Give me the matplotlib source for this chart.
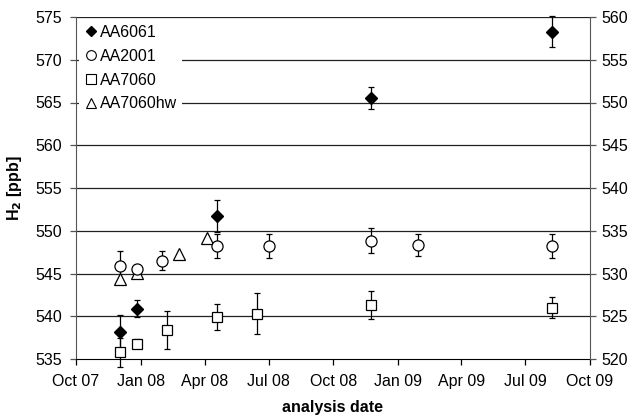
import matplotlib
matplotlib.use("Agg")
import matplotlib.pyplot as plt
import matplotlib.dates as mdates
from matplotlib.lines import Line2D
import numpy as np
import datetime as dt

plt.rcParams['font.family'] = ['Liberation Sans', 'DejaVu Sans']
plt.rcParams['font.size'] = 11.5

# data
aa6061_dates = ["2007-12-03", "2007-12-27", "2008-04-18", "2008-11-24", "2009-08-08"]
aa6061_vals = [538.2, 540.9, 551.7, 565.5, 573.3]
aa6061_err = [2.0, 1.0, 1.9, 1.3, 1.8]

aa2001_dates = ["2007-12-03", "2007-12-27", "2008-02-01", "2008-04-18", "2008-07-01",
                "2008-11-24", "2009-01-30", "2009-08-08"]
aa2001_vals = [545.9, 545.5, 546.5, 548.2, 548.2, 548.85, 548.3, 548.2]
aa2001_err = [1.7, 0.3, 1.1, 1.4, 1.4, 1.5, 1.3, 1.4]

aa7060_dates = ["2007-12-03", "2007-12-27", "2008-02-07", "2008-04-18", "2008-06-14",
                "2008-11-24", "2009-08-08"]
aa7060_vals = [535.8, 536.8, 538.4, 539.9, 540.3, 541.3, 541.0]
aa7060_err = [1.7, 0.5, 2.2, 1.5, 2.4, 1.6, 1.2]

aa7060hw_dates = ["2007-12-03", "2007-12-27", "2008-02-24", "2008-04-05"]
aa7060hw_vals = [544.3, 545.1, 547.3, 549.2]

def to_dates(lst):
    return [dt.datetime.strptime(s, "%Y-%m-%d") for s in lst]

fig = plt.figure(figsize=(6.32, 4.18), dpi=100)
ax = fig.add_axes([76/632, 1-359/418, (590-76)/632, (359-17)/418])

ax.set_ylim(535, 575)
ax.set_xlim(dt.datetime(2007, 10, 1), dt.datetime(2009, 10, 1))
ax.set_yticks(np.arange(535, 576, 5))
for yv in np.arange(540, 576, 5):
    ax.axhline(yv, color='#222222', lw=0.9, zorder=1)

eb = dict(ecolor='black', elinewidth=0.9, capsize=2.5, capthick=0.9, ls='none', zorder=3, clip_on=False)
ax.errorbar(to_dates(aa6061_dates), aa6061_vals, yerr=aa6061_err, marker='D', ms=6.5,
            mfc='black', mec='black', **eb)
ax.errorbar(to_dates(aa2001_dates), aa2001_vals, yerr=aa2001_err, marker='o', ms=8,
            mfc='white', mec='black', mew=0.9, **eb)
ax.errorbar(to_dates(aa7060_dates), aa7060_vals, yerr=aa7060_err, marker='s', ms=7,
            mfc='white', mec='black', mew=0.9, **eb)
ax.plot(to_dates(aa7060hw_dates), aa7060hw_vals, ls='none', marker='^', ms=8,
        mfc='white', mec='black', mew=0.9, zorder=3, clip_on=False)

ax.xaxis.set_major_locator(mdates.MonthLocator(bymonth=[1, 4, 7, 10]))
ax.xaxis.set_major_formatter(mdates.DateFormatter('%b %y'))

ax.spines['top'].set_visible(False)
ax.spines['right'].set_visible(False)
ax.spines['left'].set_color('#555555')
ax.tick_params(direction='out', length=4, width=0.9, colors='black', pad=7)
ax.tick_params(axis='y', color='#555555', pad=6)

ax.set_ylabel('H$_\\mathbf{2}$ [ppb]', fontweight='bold', labelpad=8)
ax.set_xlabel('analysis date', fontweight='bold', labelpad=8)

ax2 = ax.twinx()
ax2.set_ylim(520, 560)
ax2.set_yticks(np.arange(520, 561, 5))
ax2.spines['top'].set_visible(False)
ax2.spines['left'].set_visible(False)
ax2.spines['bottom'].set_visible(False)
ax2.spines['right'].set_color('#555555')
ax2.tick_params(direction='out', length=4, width=0.9, color='#555555', pad=4.5)

handles = [
    Line2D([], [], ls='none', marker='D', ms=5.5, mfc='black', mec='black'),
    Line2D([], [], ls='none', marker='o', ms=7, mfc='white', mec='black', mew=0.8),
    Line2D([], [], ls='none', marker='s', ms=6.5, mfc='white', mec='black', mew=0.8),
    Line2D([], [], ls='none', marker='^', ms=7, mfc='white', mec='black', mew=0.8),
]
labels = ['AA6061', 'AA2001', 'AA7060', 'AA7060hw']
leg = ax.legend(handles, labels, loc='upper left', frameon=True, fancybox=False,
                edgecolor='none', facecolor='white', framealpha=1, handletextpad=0.1,
                handlelength=0.9, labelspacing=0.55, borderaxespad=0.2, borderpad=0.3)
leg.set_zorder(5)

fig.savefig('out.png', dpi=100)
